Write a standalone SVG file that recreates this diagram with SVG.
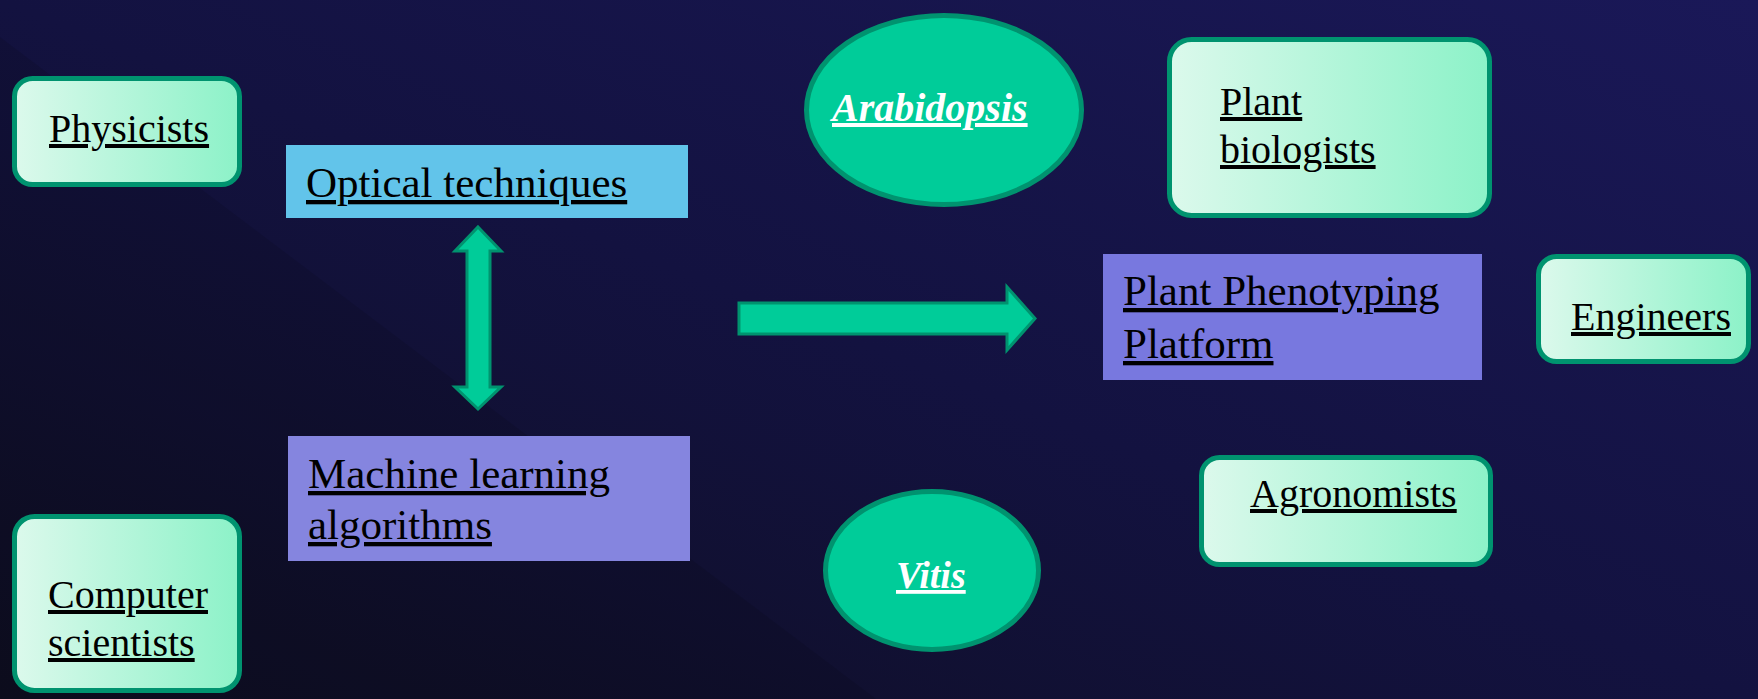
<svg xmlns="http://www.w3.org/2000/svg" width="1758" height="699" viewBox="0 0 1758 699">
<defs>
<linearGradient id="bg" x1="0" y1="1" x2="1" y2="0">
<stop offset="0" stop-color="#0E0E20"/>
<stop offset="0.5" stop-color="#131240"/>
<stop offset="1" stop-color="#1A1858"/>
</linearGradient>
<linearGradient id="boxg" x1="0" y1="0" x2="1" y2="0">
<stop offset="0" stop-color="#DCF9EC"/>
<stop offset="1" stop-color="#8CF2C8"/>
</linearGradient>
<style>
.pbox{fill:url(#boxg);stroke:#00936F;stroke-width:5}
.ell{fill:#00CC99;stroke:#00936F;stroke-width:5}
.arr{fill:#00CC99;stroke:#00936F;stroke-width:3;stroke-linejoin:miter}
.t{font-family:"Liberation Serif","Times New Roman",serif;fill:#000;text-decoration:underline}
.s40{font-size:40px}
.s43{font-size:43px}
.it{font-family:"Liberation Serif","Times New Roman",serif;font-style:italic;font-weight:bold;fill:#fff;font-size:40px;text-decoration:underline}
</style>
</defs>
<rect x="0" y="0" width="1758" height="699" fill="url(#bg)"/>
<polygon points="0,37 876,699 0,699" fill="#000" opacity="0.1"/>

<g id="connectors">
<polygon class="arr" points="478,227 501,251 490,251 490,387 501,387 478,409 455,387 467,387 467,251 455,251"/>
<polygon class="arr" points="739,303 1007,303 1007,287 1035,318.5 1007,350 1007,334 739,334"/>
</g>

<g id="physicists">
<rect class="pbox" x="14.5" y="78.5" width="225" height="106" rx="18"/>
<text class="t s40" x="49" y="142">Physicists</text>
</g>

<g id="computer-scientists">
<rect class="pbox" x="14.5" y="516.5" width="225" height="174" rx="20"/>
<text class="t s40" x="48" y="608">Computer</text>
<text class="t s40" x="48" y="656">scientists</text>
</g>

<g id="optical">
<rect x="286" y="145" width="402" height="73" fill="#62C4EA"/>
<text class="t s43" x="306" y="197">Optical techniques</text>
</g>

<g id="machine-learning">
<rect x="288" y="436" width="402" height="125" fill="#8585DF"/>
<text class="t s43" x="308" y="488">Machine learning</text>
<text class="t s43" x="308" y="539">algorithms</text>
</g>

<g id="arabidopsis">
<ellipse class="ell" cx="944" cy="110" rx="137.5" ry="94.5"/>
<text class="it" x="832" y="121">Arabidopsis</text>
</g>

<g id="vitis">
<ellipse class="ell" cx="932" cy="570.5" rx="106.5" ry="79"/>
<text class="it" x="896" y="588" style="font-size:38px">Vitis</text>
</g>

<g id="plant-biologists">
<rect class="pbox" x="1169.5" y="39.5" width="320" height="176" rx="22"/>
<text class="t s40" x="1220" y="115">Plant</text>
<text class="t s40" x="1220" y="163">biologists</text>
</g>

<g id="platform">
<rect x="1103" y="254" width="379" height="126" fill="#7878DF"/>
<text class="t s43" x="1123" y="305">Plant Phenotyping</text>
<text class="t s43" x="1123" y="358">Platform</text>
</g>

<g id="engineers">
<rect class="pbox" x="1538.5" y="256.5" width="210" height="105" rx="18"/>
<text class="t s40" x="1571" y="330">Engineers</text>
</g>

<g id="agronomists">
<rect class="pbox" x="1201.5" y="457.5" width="289" height="107" rx="18"/>
<text class="t s40" x="1250" y="507">Agronomists</text>
</g>
</svg>
